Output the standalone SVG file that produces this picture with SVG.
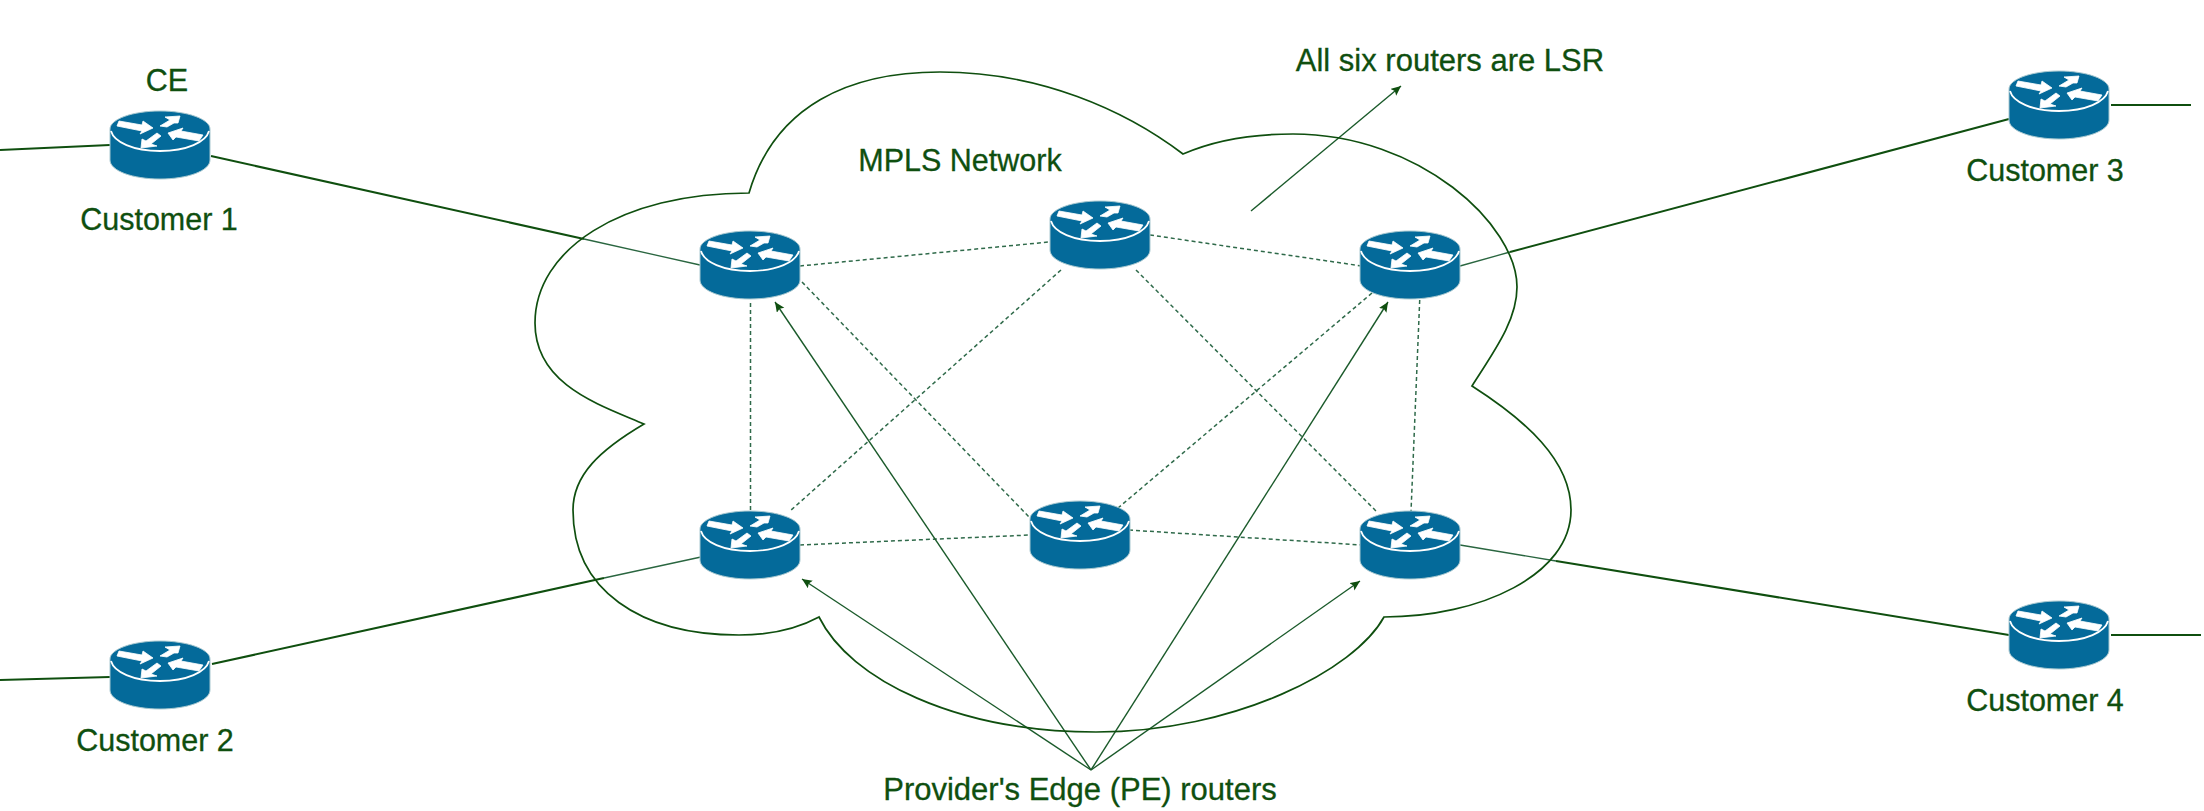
<svg xmlns="http://www.w3.org/2000/svg" width="2204" height="811" viewBox="0 0 2204 811">
<style>
text{font-family:"Liberation Sans",Arial,sans-serif;font-size:30.5px;fill:#0f4f0f;stroke:#0f4f0f;stroke-width:.3;text-anchor:middle}
text.b{font-size:31px}
.s{fill:none;stroke:#0f4f0f;stroke-width:1.7}
.o{fill:none;stroke:#0f4f0f;stroke-width:2.1}
.i{fill:none;stroke:#2a6640;stroke-width:1.3}
.d{fill:none;stroke:#2f6a4a;stroke-width:1.5;stroke-dasharray:4 3}
.a{fill:none;stroke:#1a5a2a;stroke-width:1.4;marker-end:url(#h)}
</style>
<defs>
<marker id="h" markerUnits="userSpaceOnUse" markerWidth="12" markerHeight="10" refX="10" refY="4.5" orient="auto"><path d="M0 0L10 4.5L0 9L2 4.5Z" fill="#0f4f0f"/></marker>
<g id="router">
<path d="M-50-16C-50-26-27-34 0-34S50-26 50-16V15C50 26 27 34 0 34S-50 26-50 15Z" fill="#046a9a" stroke="#a8c8d0" stroke-width="1"/>
<path d="M-49-14C-46-3-27 6 0 6S46-3 49-14" fill="none" stroke="#fff" stroke-width="1.8"/>
<g fill="#fff" stroke="#fff" stroke-width=".8" stroke-linejoin="miter">
<path d="M-41-24L-18-20L-17-24L-7-17L-20-11L-18-14L-43-19Z"/>
<path d="M-19 3L-18-6L-14-4L-3-12L1-9L-9-1L-3 1Z"/>
<path d="M8-12L23-17L21-14L43-10L39-4L16-8L13-5Z"/>
<path d="M20-29L5-28L10-25L0-19L7-18L14-22L18-22Z"/>
</g>
</g>
</defs>
<g id="connectors">
<path class="o" d="M0 150L110 145M211 156L584 239M0 680L110 677M212 664L604 578M1510 252L2009 119M2111 105H2191M1556 561L2009 635M2111 635H2201"/>
<path class="i" d="M584 239L700 265M604 578L701 557M1460 266L1510 252M1460 545L1556 561"/>
<path class="d" d="M800 266L1049 242M1150 235L1362 266M750.5 303V512M802 282L1030 518M1061 270L790 511M1136 270L1377 512M1372 293L1118 508M1420 293L1411 512M800 545L1030 535M1129 530L1362 545"/>
<path class="a" d="M1091 770L775 302"/>
<path class="a" d="M1091 770L1388 302"/>
<path class="a" d="M1091 770L802 579"/>
<path class="a" d="M1091 770L1360 581"/>
<path class="a" d="M1251 211L1401 86"/>
</g>
<path id="cloud" class="s" d="M749 193C775 105 850 72 940 72C1040 72 1125 110 1183 154C1215 140 1255 134 1293 134C1420 134 1517 225 1517 287C1517 320 1495 350 1472 386C1525 420 1571 460 1571 510C1571 575 1480 617 1384 617C1355 670 1235 732 1096 732C957 732 850 680 819 617C795 630 770 635 739 635C640 635 573 590 573 510C573 475 600 450 644 424C600 405 535 385 535 323C535 250 620 193 749 193Z"/>
<use id="ce1" href="#router" x="160" y="145"/>
<use id="ce2" href="#router" x="160" y="675"/>
<use id="ce3" href="#router" x="2059" y="105"/>
<use id="ce4" href="#router" x="2059" y="635"/>
<use id="p1" href="#router" x="750" y="265"/>
<use id="p2" href="#router" x="1100" y="235"/>
<use id="p3" href="#router" x="1410" y="265"/>
<use id="p4" href="#router" x="750" y="545"/>
<use id="p5" href="#router" x="1080" y="535"/>
<use id="p6" href="#router" x="1410" y="545"/>
<text x="167" y="91">CE</text>
<text x="159" y="230">Customer 1</text>
<text x="155" y="751">Customer 2</text>
<text x="2045" y="181">Customer 3</text>
<text x="2045" y="711">Customer 4</text>
<text x="960" y="171">MPLS Network</text>
<text class="b" x="1450" y="71">All six routers are LSR</text>
<text class="b" x="1080" y="800">Provider's Edge (PE) routers</text>
</svg>
